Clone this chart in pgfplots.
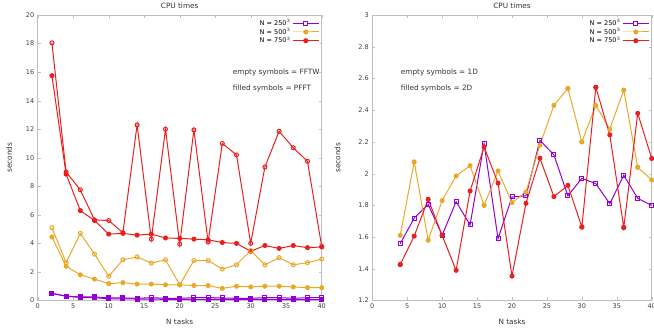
\documentclass[border=0pt]{standalone}
\usepackage{fontspec}
\setmainfont{DejaVu Sans}
\usepackage{pgfplots}
\pgfplotsset{compat=1.18}
\definecolor{cpurple}{RGB}{148,0,211}
\definecolor{corange}{RGB}{235,168,40}
\definecolor{cred}{RGB}{235,30,30}
\newcommand{\sfont}{\fontsize{6.5}{7.5}\selectfont}
\newcommand{\afont}{\fontsize{7.3}{8.5}\selectfont}
\pgfplotsset{
  myax/.style={
    scale only axis, height=285.5pt,
    axis line style={black!25}, tick style={black!25}, tick align=inside,
    major tick length=3pt,
    ticklabel style={font=\sfont, text=black!75},
    /pgf/number format/assume math mode=true,
    label style={font=\afont, text=black!80},
    title style={font=\afont, text=black!80, yshift=-3pt},
    title={CPU times},
    xlabel={N tasks}, ylabel={seconds},
    xlabel style={yshift=-3pt},
    xmin=0, xmax=40, xtick={0,5,...,40},
    every axis plot/.append style={line width=1pt},
    mark size=2pt,
    legend plot pos=right,
    legend cell align=right,
    legend style={at={(rel axis cs:0.995,0.995)}, anchor=north east, draw=none, fill=white,
      font=\sfont, row sep=-2.5pt, inner sep=1pt},
    legend image code/.code={\draw[mark repeat=2,mark phase=2] plot coordinates {(0cm,0cm) (0.45cm,0cm) (0.9cm,0cm)};},
  },
  purpleleg/.style={legend image code/.code={%
    \draw[cpurple, line width=1pt] (0cm,0cm) -- (0.9cm,0cm);
    \draw[cpurple, line width=0.9pt, fill=white] (0.45cm,0cm) +(-2pt,-2pt) rectangle +(2pt,2pt);}},
}
\pgfplotstableread{
x  pe    pf    oe    of    re    rf
2  0.50  0.50  5.10  4.45  18.05 15.75
4  0.30  0.30  2.65  2.40  9.00  8.85
6  0.25  0.22  4.70  1.80  7.75  6.30
8  0.25  0.20  3.25  1.50  5.65  5.60
10 0.18  0.12  1.70  1.18  5.60  4.65
12 0.18  0.12  2.85  1.25  4.75  4.70
14 0.15  0.10  3.05  1.15  12.30 4.58
16 0.20  0.10  2.62  1.15  4.30  4.65
18 0.15  0.08  2.85  1.10  12.00 4.38
20 0.15  0.08  1.10  1.10  3.95  4.35
22 0.20  0.08  2.80  1.05  11.95 4.30
24 0.20  0.08  2.80  1.05  4.10  4.25
26 0.18  0.08  2.20  0.85  11.00 4.06
28 0.15  0.07  2.50  1.00  10.20 4.00
30 0.15  0.07  3.50  0.95  4.00  3.45
32 0.20  0.07  2.50  1.00  9.35  3.85
34 0.20  0.07  3.00  1.00  11.85 3.65
36 0.15  0.06  2.50  0.95  10.70 3.85
38 0.20  0.06  2.65  0.90  9.75  3.70
40 0.20  0.06  2.90  0.90  3.78  3.75
}\lefttab
\pgfplotstableread{
x  p     o     r
4  1.558 1.610 1.427
6  1.720 2.074 1.606
8  1.806 1.580 1.838
10 1.612 1.830 1.610
12 1.823 1.985 1.390
14 1.676 2.050 1.890
16 2.190 1.800 2.168
18 1.590 2.017 1.940
20 1.853 1.817 1.354
22 1.860 1.884 1.813
24 2.210 2.180 2.097
26 2.118 2.430 1.855
28 1.860 2.537 1.926
30 1.970 2.200 1.663
32 1.937 2.430 2.544
34 1.810 2.280 2.244
36 1.990 2.527 1.660
38 1.844 2.040 2.380
40 1.800 1.960 2.095
}\righttab
\pgfplotstableread{
x  o
16 1.800
28 2.537
30 2.200
38 2.040
}\rightoempty
\pgfplotstableread{
x  r
4  1.427
10 1.610
30 1.663
32 2.544
36 1.660
}\rightrempty
\begin{document}
\begin{tikzpicture}
\useasboundingbox (0,0) rectangle (654pt,328pt);
\begin{axis}[myax, at={(37.7pt,27.5pt)}, anchor=south west, width=284pt,
  ylabel shift=7pt,
  ymin=0, ymax=20, ytick={0,2,...,20}]
\addplot[cpurple, mark=square, mark options={fill=white}, purpleleg] table[x=x,y=pe] {\lefttab};
\addlegendentry{N = 250$^3$}
\addplot[corange, mark=*] table[x=x,y=of] {\lefttab};
\addlegendentry{N = 500$^3$}
\addplot[cred, mark=*] table[x=x,y=rf] {\lefttab};
\addlegendentry{N = 750$^3$}
\addplot[cpurple, mark=square*, forget plot] table[x=x,y=pf] {\lefttab};
\addplot[corange, mark=o, mark options={fill=white}, forget plot] table[x=x,y=oe] {\lefttab};
\addplot[cred, mark=o, mark options={fill=white}, forget plot] table[x=x,y=re] {\lefttab};
\node[font=\afont, text=black!80, anchor=west] at (rel axis cs:0.675,0.797) {empty symbols = FFTW};
\node[font=\afont, text=black!80, anchor=west] at (rel axis cs:0.675,0.744) {filled symbols = PFFT};
\end{axis}
\begin{axis}[myax, at={(372.3pt,27.5pt)}, anchor=south west, width=279.4pt,
  ylabel shift=11pt,
  ymin=1.2, ymax=3, ytick={1.2,1.4,...,3.01}]
\addplot[cpurple, mark=square, mark options={fill=white}, purpleleg] table[x=x,y=p] {\righttab};
\addlegendentry{N = 250$^3$}
\addplot[corange, mark=*] table[x=x,y=o] {\righttab};
\addlegendentry{N = 500$^3$}
\addplot[cred, mark=*] table[x=x,y=r] {\righttab};
\addlegendentry{N = 750$^3$}
\addplot[corange, only marks, mark=o, mark options={fill=white}, forget plot] table[x=x,y=o] {\rightoempty};
\addplot[cred, only marks, mark=o, mark options={fill=white}, forget plot] table[x=x,y=r] {\rightrempty};
\node[font=\afont, text=black!80, anchor=west] at (rel axis cs:0.09,0.797) {empty symbols = 1D};
\node[font=\afont, text=black!80, anchor=west] at (rel axis cs:0.09,0.744) {filled symbols = 2D};
\end{axis}
\end{tikzpicture}
\end{document}
